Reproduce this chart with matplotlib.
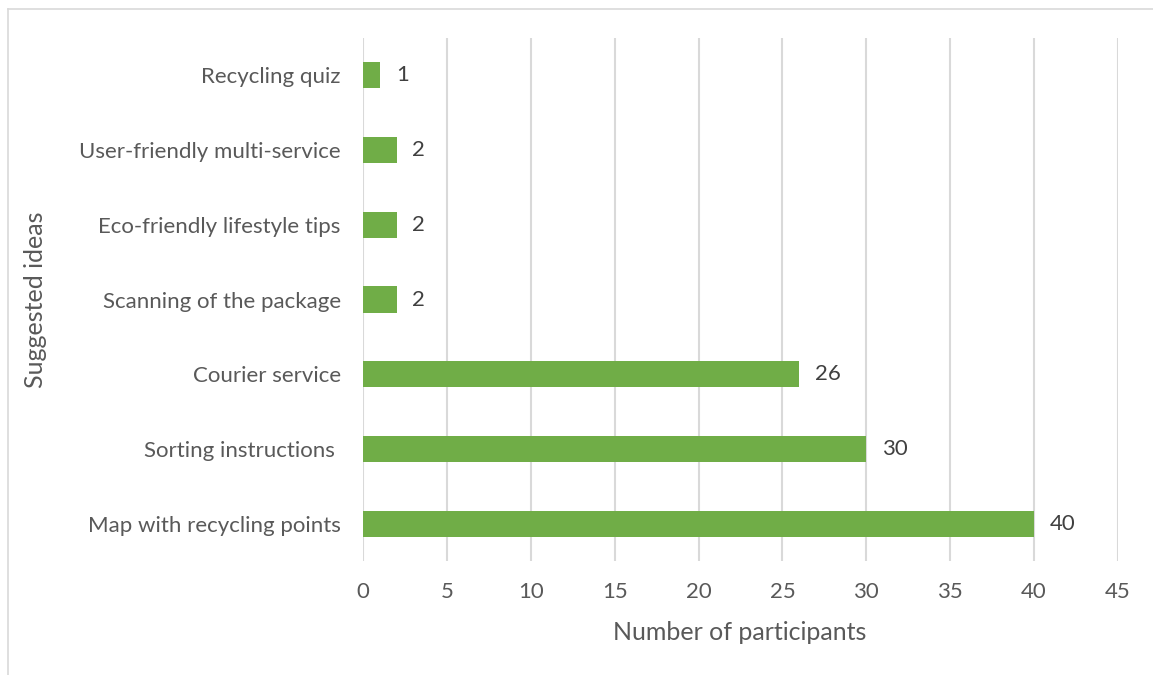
import matplotlib
matplotlib.use("Agg")
import matplotlib.pyplot as plt
from matplotlib.lines import Line2D

categories = ["Recycling quiz", "User-friendly multi-service", "Eco-friendly lifestyle tips",
              "Scanning of the package", "Courier service", "Sorting instructions ",
              "Map with recycling points"]
values = [1, 2, 2, 2, 26, 30, 40]
xticks = [0, 5, 10, 15, 20, 25, 30, 35, 40, 45]

plt.rcParams['font.family'] = ['Lato', 'DejaVu Sans']
txt = '#595959'
fs = 16

W, H = 1153, 675
fig = plt.figure(figsize=(W/100, H/100), dpi=100)
ax = fig.add_axes([363/W, 1-561.4/H, (1118-363)/W, (561.4-37.6)/H])

ypos = list(range(len(categories)))[::-1]
ax.barh(ypos, values, height=0.35, color='#70AD47', zorder=3)
for y, v in zip(ypos, values):
    ax.text(v + 0.95, y, str(v), va='center', ha='left', fontsize=fs, color='#404040')

ax.set_xlim(0, 45)
ax.set_ylim(-0.5, len(categories) - 0.5)
ax.set_xticks(xticks)
ax.set_xticklabels([str(t) for t in xticks])
ax.set_yticks(ypos)
ax.set_yticklabels(categories)
ax.tick_params(axis='both', length=0, labelsize=fs, labelcolor=txt)
ax.tick_params(axis='x', pad=15)
ax.tick_params(axis='y', pad=16)
ax.grid(axis='x', color='#D9D9D9', linewidth=1.5, zorder=0)
for s in ax.spines.values():
    s.set_visible(False)

fig.text(740/W, 1-632/H, "Number of participants", fontsize=18, color=txt, ha='center', va='center')
fig.text(36/W, 1-300/H, "Suggested ideas", fontsize=18, color=txt, ha='center', va='center', rotation=90)

fig.add_artist(Line2D([7.5/W, 1], [1-8.5/H, 1-8.5/H], color='#D9D9D9', linewidth=1.2, transform=fig.transFigure))
fig.add_artist(Line2D([7.5/W, 7.5/W], [0, 1-8.5/H], color='#D9D9D9', linewidth=1.2, transform=fig.transFigure))

fig.savefig("out.png", dpi=100)
